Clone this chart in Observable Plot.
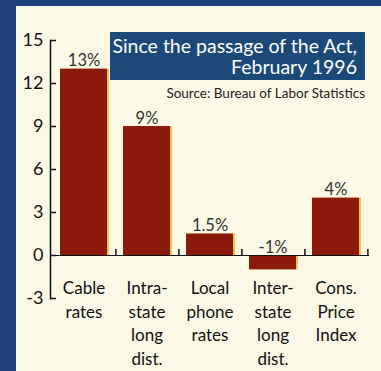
<!DOCTYPE html>
<html>
<head>
<meta charset="utf-8">
<script src="https://cdn.jsdelivr.net/npm/d3@7"></script>
<script src="https://cdn.jsdelivr.net/npm/@observablehq/plot@0.6"></script>
<style>
  html, body { margin: 0; padding: 0; }
  body { width: 381px; height: 371px; overflow: hidden; background: #1f3f78; position: relative; font-family: Lato, "Open Sans", sans-serif; }
  #panel { position: absolute; left: 16px; top: 6px; width: 365px; height: 365px; background: #fbf9e6; }
  #titlebox { position: absolute; left: 94px; top: 26px; width: 255px; height: 48px; background: #1b4a78; color: #fff; font-size: 19.5px; line-height: 21px; text-align: right; box-sizing: border-box; padding: 3px 8px 0 0; }
  #source { position: absolute; right: 16px; top: 79px; font-size: 13.5px; color: #222; }
  svg { position: absolute; left: 0; top: 0; }
</style>
</head>
<body>
<div id="panel">
  <div id="chart"></div>
  <div id="titlebox">Since the passage of the Act,<br>February 1996</div>
  <div id="source">Source: Bureau of Labor Statistics</div>
</div>
<script>
const categories = ["Cable\nrates", "Intra-\nstate\nlong\ndist.", "Local\nphone\nrates", "Inter-\nstate\nlong\ndist.", "Cons.\nPrice\nIndex"];
const values = [13, 9, 1.5, -1, 4];
const valueLabels = ["13%", "9%", "1.5%", "-1%", "4%"];
const yTicks = [-3, 0, 3, 6, 9, 12, 15];

const data = categories.map((c, i) => ({cat: c, value: values[i], label: valueLabels[i]}));
const W = 365, H = 365, mL = 34, mR = 12;
const pInner = 0.26;
const step = (W - mL - mR) / 5;

const chart = Plot.plot({
  width: W,
  height: H,
  marginLeft: mL,
  marginRight: mR,
  marginTop: 34,
  marginBottom: 73,
  style: {background: "transparent", fontFamily: "Lato, 'Open Sans', sans-serif"},
  x: {domain: categories, paddingInner: pInner, paddingOuter: pInner / 2, axis: null},
  y: {domain: [-3, 15], axis: null},
  marks: [
    Plot.barY(data, {x: "cat", y: "value", fill: "#e8c25a", dx: 2}),
    Plot.barY(data, {x: "cat", y: "value", fill: "#8c1a0b"}),
    Plot.frame({anchor: "left", stroke: "#111", strokeWidth: 1.5}),
    Plot.ruleY(yTicks, {y: d => d, insetRight: W - mL - mR - 6, stroke: "#111", strokeWidth: 1.5}),
    Plot.ruleY([0], {stroke: "#111", strokeWidth: 1.2}),
    Plot.tickX(data, {x: "cat", dx: step / 2, insetTop: 209, insetBottom: 43, stroke: "#111", strokeWidth: 1.5}),
    Plot.text(yTicks, {y: d => d, text: d => String(d), frameAnchor: "left", dx: -7, textAnchor: "end", fontSize: 18, fill: "#111"}),
    Plot.text(data, {x: "cat", y: d => Math.max(d.value, 0), text: "label", lineAnchor: "bottom", dy: -3, fontSize: 16.5, fill: "#333"}),
    Plot.text(data, {x: "cat", y: 0, text: "cat", lineAnchor: "top", dy: 22, lineHeight: 1.38, fontSize: 17, fill: "#111"})
  ]
});
document.getElementById("chart").appendChild(chart);
</script>
</body>
</html>
